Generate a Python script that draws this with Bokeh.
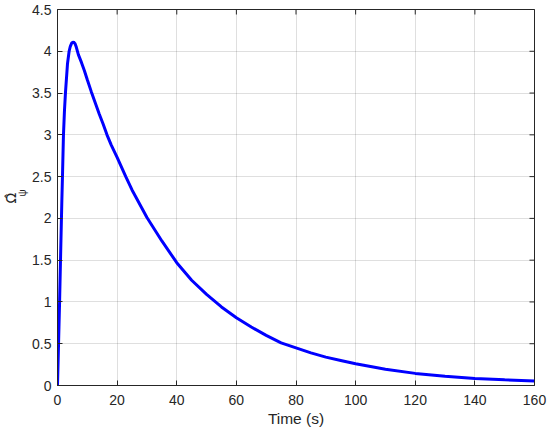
import math
from bokeh.plotting import figure
from bokeh.models import Range1d, FixedTicker, NumeralTickFormatter, Title
from bokeh.embed import file_html
from bokeh.resources import INLINE

# Data
time_s = [0, 0.35, 0.7, 1.1, 1.45, 1.7, 2.0, 2.35, 2.7, 3.35, 3.9, 4.3, 4.8, 5.4, 5.9, 6.3,
          7.0, 8.0, 9.0, 10.0, 11.3, 12.5, 14.0, 15.3, 16.6, 18.0, 20, 22.9, 25, 30, 35,
          40, 45, 50, 55, 60, 65, 70, 75, 80, 85, 90, 95, 100, 110, 120, 130, 140, 150, 160]
omega_psi = [0, 0.5, 1.0, 1.65, 2.2, 2.55, 3.0, 3.3, 3.52, 3.85, 4.0, 4.06, 4.1, 4.11, 4.09, 4.05,
             3.96, 3.87, 3.77, 3.66, 3.52, 3.4, 3.25, 3.13, 3.0, 2.88, 2.73, 2.5, 2.34, 2.01, 1.73,
             1.47, 1.26, 1.09, 0.94, 0.81, 0.70, 0.60, 0.51, 0.45, 0.39, 0.34, 0.30, 0.26, 0.195,
             0.145, 0.11, 0.085, 0.068, 0.055]

x_ticks = [0, 20, 40, 60, 80, 100, 120, 140, 160]
y_ticks = [0, 0.5, 1, 1.5, 2, 2.5, 3, 3.5, 4, 4.5]
x_label = "Time (s)"
y_label_main = "\u03A9\u0302"
y_label_sub = "\u03C8"

AX = "#262626"
FONT = "Liberation Sans"

p = figure(width=548, height=432, output_backend="svg", toolbar_location=None,
           x_range=Range1d(0, 160), y_range=Range1d(0, 4.5),
           min_border_left=57, min_border_right=14, min_border_top=9, min_border_bottom=47)
p.background_fill_color = "white"
p.border_fill_color = "white"
p.outline_line_color = AX
p.outline_line_width = 1

for ax in (p.xaxis[0], p.yaxis[0]):
    ax.axis_line_color = AX
    ax.major_tick_line_color = AX
    ax.major_tick_in = 5
    ax.major_tick_out = 0
    ax.minor_tick_line_color = None
    ax.major_label_text_color = AX
    ax.major_label_text_font = FONT
    ax.major_label_text_font_size = "14px"
    ax.axis_label_text_font = FONT
    ax.axis_label_text_font_style = "normal"
    ax.axis_label_text_color = AX
    ax.axis_label_text_font_size = "15.5px"

p.xaxis.ticker = FixedTicker(ticks=x_ticks)
p.yaxis.ticker = FixedTicker(ticks=y_ticks)
p.xaxis.formatter = NumeralTickFormatter(format="0")
p.yaxis.formatter = NumeralTickFormatter(format="0.[0]")
p.xaxis.major_label_standoff = 9
p.yaxis.major_label_standoff = 6
p.xaxis.axis_label = x_label
p.xaxis.axis_label_standoff = 2

p.xgrid.ticker = FixedTicker(ticks=x_ticks)
p.ygrid.ticker = FixedTicker(ticks=y_ticks)
p.grid.grid_line_color = AX
p.grid.grid_line_alpha = 0.15

# tick marks on the top and right edges of the box (outer half clipped by the frame)
p.scatter(x=x_ticks, y=[y_ticks[-1]] * len(x_ticks), marker="dash", size=10,
          angle=math.pi / 2, line_color=AX, line_width=1)
p.scatter(x=[x_ticks[-1]] * len(y_ticks), y=y_ticks, marker="dash", size=10,
          line_color=AX, line_width=1)

p.line(time_s, omega_psi, line_color="#0000ff", line_width=3)

# y-axis label: subscript psi next to the tick labels, Omega-hat overlapping just outside it
sub_title = Title(text=y_label_sub, align="left", offset=189, standoff=0,
                  vertical_align="top", text_font=FONT, text_font_size="10px",
                  text_font_style="normal", text_color=AX)
main_title = Title(text=y_label_main, align="left", offset=182, standoff=-5,
                   vertical_align="bottom", text_font="DejaVu Sans", text_font_size="14px",
                   text_font_style="normal", text_color=AX)
p.add_layout(sub_title, "left")
p.add_layout(main_title, "left")

open("out.html", "w").write(file_html(p, INLINE))
